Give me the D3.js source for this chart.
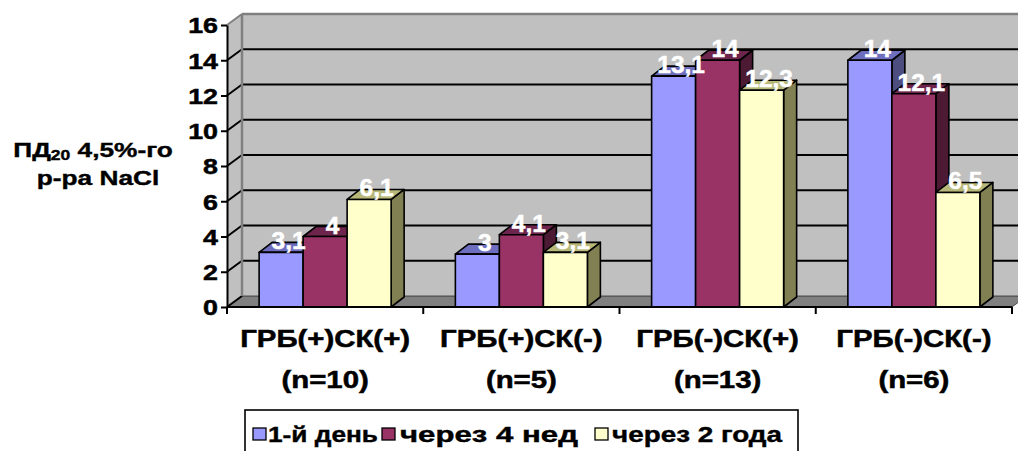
<!DOCTYPE html>
<html><head><meta charset="utf-8">
<script src="https://cdn.jsdelivr.net/npm/d3@7"></script>
<style>
html,body{margin:0;padding:0;background:#fff;}
svg{display:block;font-family:"Liberation Sans",Arial,sans-serif;}
</style></head>
<body>
<svg id="c" width="1018" height="451"></svg>
<script>
const categories = ["ГРБ(+)СК(+)", "ГРБ(+)СК(-)", "ГРБ(-)СК(+)", "ГРБ(-)СК(-)"];
const categoryN = ["(n=10)", "(n=5)", "(n=13)", "(n=6)"];
const seriesNames = ["1-й день", "через 4 нед", "через 2 года"];
const day1 = [3.1, 3, 13.1, 14];
const week4 = [4, 4.1, 14, 12.1];
const year2 = [6.1, 3.1, 12.3, 6.5];
const yTicks = [0, 2, 4, 6, 8, 10, 12, 14, 16];
const seriesColors = ["#9999ff", "#993366", "#ffffcc"];

const seriesValues = [day1, week4, year2];
const svg = d3.select("#c");
const SX = 1.25;          // horizontal stretch of the original text
const DX = 15, DY = -11;  // wall depth
const BDX = 13, BDY = -10; // bar depth

const y = d3.scaleLinear().domain([0, 16]).range([307, 25]);
const x = d3.scaleBand().domain(categories).range([227, 1012]).padding(0);
const x1 = d3.scaleBand().domain(seriesNames).range([0, x.bandwidth()]).paddingInner(0).paddingOuter(0.73);

function stretched(sel, px, py, sx) {
  sel.attr("x", 0).attr("y", 0).attr("transform", `translate(${px},${py}) scale(${sx},1)`);
}

// walls
const x0 = x.range()[0], xEnd = x.range()[1];
svg.append("rect").attr("x", x0 + DX).attr("y", y(16) + DY)
  .attr("width", 1018 - x0 - DX).attr("height", y(0) - y(16)).attr("fill", "#c0c0c0");
svg.append("polygon").attr("points", [[x0, y(16)], [x0 + DX, y(16) + DY], [x0 + DX, y(0) + DY], [x0, y(0)]].join(" "))
  .attr("fill", "#c0c0c0");
// floor
svg.append("polygon").attr("points", [[x0, y(0)], [xEnd, y(0)], [xEnd + DX, y(0) + DY], [x0 + DX, y(0) + DY]].join(" "))
  .attr("fill", "#808080").attr("stroke", "#000").attr("stroke-width", 0.6);

// gridlines on back wall
svg.append("g").selectAll("line").data(yTicks.filter(v => v > 0 && v < 16)).join("line")
  .attr("x1", x0 + DX).attr("x2", 1018).attr("y1", d => y(d) + DY).attr("y2", d => y(d) + DY)
  .attr("stroke", "#000").attr("stroke-width", 2);
// diagonal side wall lines
svg.append("g").selectAll("line").data(yTicks).join("line")
  .attr("x1", x0).attr("x2", x0 + DX).attr("y1", d => y(d)).attr("y2", d => y(d) + DY)
  .attr("stroke", d => d === 16 ? "#808080" : "#000").attr("stroke-width", 2);
// wall edges
svg.append("line").attr("x1", x0 + DX).attr("x2", 1018).attr("y1", y(16) + DY).attr("y2", y(16) + DY)
  .attr("stroke", "#808080").attr("stroke-width", 2.5);
svg.append("line").attr("x1", x0 + DX).attr("x2", x0 + DX).attr("y1", y(16) + DY).attr("y2", y(0) + DY)
  .attr("stroke", "#808080").attr("stroke-width", 2.5);

// bars
const bars = [];
categories.forEach((c, ci) => {
  seriesNames.forEach((s, si) => {
    bars.push({ c, s, si, v: seriesValues[si][ci] });
  });
});
const gb = svg.append("g");
bars.forEach(b => {
  const bx = x(b.c) + x1(b.s), w = x1.bandwidth(), yt = y(b.v), yb = y(0);
  const base = d3.color(seriesColors[b.si]);
  const side = d3.rgb(base.r * 0.5, base.g * 0.5, base.b * (b.si === 2 ? 0.4 : 0.5));
  const top = d3.rgb(base.r * 0.72, base.g * 0.72, base.b * (b.si === 2 ? 0.6 : 0.75));
  const g = gb.append("g").attr("stroke", "#000").attr("stroke-width", 1.6).attr("stroke-linejoin", "round");
  g.append("polygon").attr("points", [[bx + w, yt], [bx + w + BDX, yt + BDY], [bx + w + BDX, yb + BDY], [bx + w, yb]].join(" "))
    .attr("fill", side);
  g.append("polygon").attr("points", [[bx, yt], [bx + w, yt], [bx + w + BDX, yt + BDY], [bx + BDX, yt + BDY]].join(" "))
    .attr("fill", top);
  g.append("rect").attr("x", bx).attr("y", yt).attr("width", w).attr("height", yb - yt).attr("fill", base);
});
// data labels
svg.append("g").selectAll("text").data(bars).join("text")
  .attr("x", d => x(d.c) + x1(d.s) + x1.bandwidth() / 2 + BDX / 2 + 1)
  .attr("y", d => y(d.v) - 3)
  .attr("text-anchor", "middle").attr("fill", "#fff").attr("stroke", "#fff").attr("stroke-width", 0.5)
  .attr("font-weight", "bold").attr("font-size", 24.5)
  .text(d => String(d.v).replace(".", ","));

// y axis
const yAxis = svg.append("g").attr("transform", `translate(${x0},0)`)
  .call(d3.axisLeft(y).tickValues(yTicks).tickSizeInner(6).tickSizeOuter(0).tickFormat(d3.format("d")));
yAxis.select(".domain").attr("stroke", "#000").attr("stroke-width", 2);
yAxis.selectAll(".tick line").attr("stroke", "#000").attr("stroke-width", 2);
yAxis.selectAll(".tick text").attr("font-size", 22).attr("font-weight", "bold").attr("fill", "#000")
  .attr("stroke", "#000").attr("stroke-width", 0.5)
  .attr("font-family", "Liberation Sans, Arial, sans-serif")
  .each(function () { stretched(d3.select(this), -9, 0, 1.22); d3.select(this).attr("dy", "0.36em"); });

// x axis line and boundary ticks
svg.append("line").attr("x1", x0).attr("x2", xEnd).attr("y1", y(0)).attr("y2", y(0))
  .attr("stroke", "#000").attr("stroke-width", 2);
svg.append("g").selectAll("line").data(categories.map(c => x(c)).concat([xEnd])).join("line")
  .attr("x1", d => d).attr("x2", d => d).attr("y1", y(0)).attr("y2", y(0) + 7)
  .attr("stroke", "#000").attr("stroke-width", 2);
// category labels
const xl = svg.append("g").attr("font-weight", "bold").attr("font-size", 23.5).attr("text-anchor", "middle")
  .attr("stroke", "#000").attr("stroke-width", 0.5);
categories.forEach((c, i) => {
  const cx = x(c) + x.bandwidth() / 2;
  stretched(xl.append("text").text(c), cx, 347, SX);
  stretched(xl.append("text").text(categoryN[i]), cx, 388, SX);
});

// y title
const yt = svg.append("g").attr("font-weight", "bold").attr("font-size", 21).attr("text-anchor", "middle")
  .attr("stroke", "#000").attr("stroke-width", 0.4);
const t1 = yt.append("text");
t1.append("tspan").text("ПД");
t1.append("tspan").text("20").attr("font-size", 14).attr("dy", 3);
t1.append("tspan").text(" 4,5%-го").attr("dy", -3);
stretched(t1, 93, 157, SX);
stretched(yt.append("text").text("р-ра NaCl"), 98, 185, SX);

// legend
const lg = svg.append("g");
lg.append("rect").attr("x", 245).attr("y", 410).attr("width", 553).attr("height", 60)
  .attr("fill", "#fff").attr("stroke", "#000").attr("stroke-width", 1.6);
const legendSwatchX = [253, 382, 595];
const legendTextX = [268, 400, 612];
const legendTextW = [110, 178, 170];
seriesNames.forEach((s, i) => {
  lg.append("rect").attr("x", legendSwatchX[i]).attr("y", 428).attr("width", 13).attr("height", 12)
    .attr("fill", seriesColors[i]).attr("stroke", "#000").attr("stroke-width", 1.3);
  lg.append("text").text(s).attr("font-weight", "bold").attr("font-size", 22)
    .attr("stroke", "#000").attr("stroke-width", 0.4)
    .attr("x", legendTextX[i]).attr("y", 442)
    .attr("textLength", legendTextW[i]).attr("lengthAdjust", "spacingAndGlyphs");
});
</script>
</body></html>
